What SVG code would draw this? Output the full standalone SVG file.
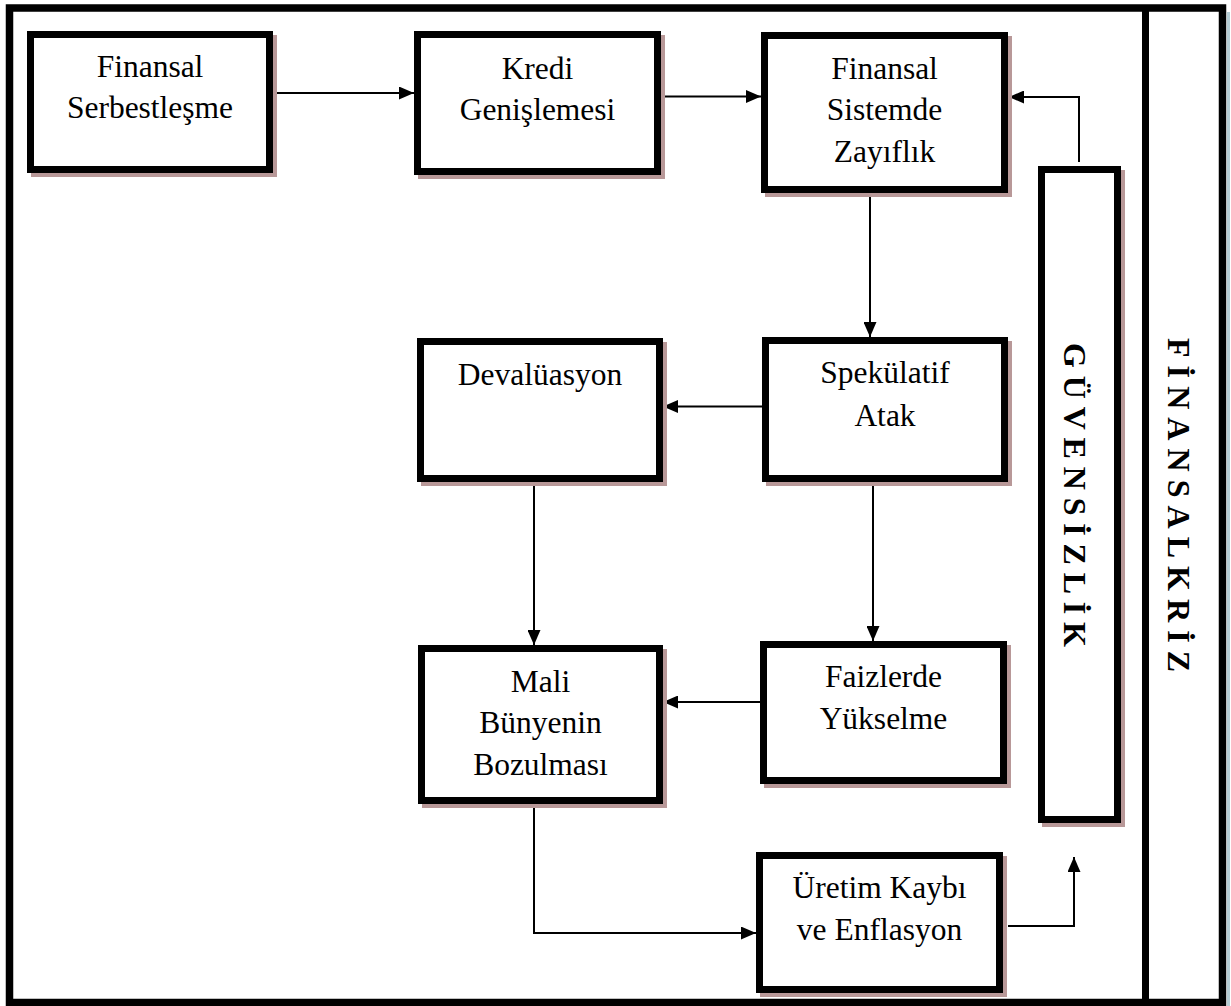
<svg xmlns="http://www.w3.org/2000/svg" width="1231" height="1006" viewBox="0 0 1231 1006">
<style>
.box{fill:#fff;stroke:#000;stroke-width:7}
.sh{fill:#b89898}
.t{font-family:"Liberation Serif","Times New Roman",serif;font-size:31.5px;fill:#000;text-anchor:middle}
.v{font-family:"Liberation Serif","Times New Roman",serif;font-size:32px;font-weight:bold;fill:#000}
.c{fill:none;stroke:#000;stroke-width:2}
</style>
<defs>
<marker id="ah" markerWidth="15" markerHeight="13" refX="15" refY="6.5" orient="auto" markerUnits="userSpaceOnUse">
<path d="M0,0 L15,6.5 L0,13 Z" fill="#000"/>
</marker>
</defs>
<rect x="0" y="0" width="1231" height="1006" fill="#fff"/>
<rect x="1227" y="12" width="3" height="994" fill="#b4ccd4"/>
<g id="frame">
<rect x="9.5" y="8" width="1213" height="994.5" fill="none" stroke="#000" stroke-width="7.5"/>
<line x1="1145.5" y1="8" x2="1145.5" y2="1002" stroke="#000" stroke-width="7"/>
<text class="v" transform="translate(1168,505) rotate(90)" text-anchor="middle" x="0" y="0" textLength="334" lengthAdjust="spacing">FİNANSALKRİZ</text>
</g>
<g id="connectors">
<line class="c" x1="273" y1="93" x2="414" y2="93" marker-end="url(#ah)"/>
<line class="c" x1="661" y1="96.5" x2="761" y2="96.5" marker-end="url(#ah)"/>
<line class="c" x1="870" y1="193" x2="870" y2="337" marker-end="url(#ah)"/>
<line class="c" x1="762" y1="406.5" x2="663" y2="406.5" marker-end="url(#ah)"/>
<line class="c" x1="534" y1="482" x2="534" y2="645" marker-end="url(#ah)"/>
<line class="c" x1="873" y1="482" x2="873" y2="641" marker-end="url(#ah)"/>
<line class="c" x1="760" y1="702" x2="663" y2="702" marker-end="url(#ah)"/>
<polyline class="c" points="534,804 534,933 756,933" marker-end="url(#ah)"/>
<polyline class="c" points="1008,926 1074,926 1074,857" marker-end="url(#ah)"/>
<polyline class="c" points="1079,162 1079,97 1009,97" marker-end="url(#ah)"/>
</g>
<g id="n1">
<rect class="sh" x="31" y="35" width="246" height="142"/>
<rect class="box" x="30.5" y="34.5" width="239" height="135"/>
<text class="t" x="150" y="77">Finansal</text>
<text class="t" x="150" y="118">Serbestleşme</text>
</g>
<g id="n2">
<rect class="sh" x="418" y="35" width="247" height="144"/>
<rect class="box" x="417.5" y="34.5" width="240" height="137"/>
<text class="t" x="537.5" y="79">Kredi</text>
<text class="t" x="537.5" y="120">Genişlemesi</text>
</g>
<g id="n3">
<rect class="sh" x="765" y="36" width="247" height="161"/>
<rect class="box" x="764.5" y="35.5" width="240" height="154"/>
<text class="t" x="884.5" y="79">Finansal</text>
<text class="t" x="884.5" y="120">Sistemde</text>
<text class="t" x="884.5" y="162">Zayıflık</text>
</g>
<g id="n4">
<rect class="sh" x="421" y="342" width="246" height="144"/>
<rect class="box" x="420.5" y="341.5" width="239" height="137"/>
<text class="t" x="540" y="385">Devalüasyon</text>
</g>
<g id="n5">
<rect class="sh" x="766" y="341" width="246" height="145"/>
<rect class="box" x="765.5" y="340.5" width="239" height="138"/>
<text class="t" x="885" y="383">Spekülatif</text>
<text class="t" x="885" y="426">Atak</text>
</g>
<g id="n6">
<rect class="sh" x="422" y="649" width="245" height="159"/>
<rect class="box" x="421.5" y="648.5" width="238" height="152"/>
<text class="t" x="540.5" y="692">Mali</text>
<text class="t" x="540.5" y="733">Bünyenin</text>
<text class="t" x="540.5" y="775">Bozulması</text>
</g>
<g id="n7">
<rect class="sh" x="764" y="645" width="247" height="143"/>
<rect class="box" x="763.5" y="644.5" width="240" height="136"/>
<text class="t" x="883.5" y="687">Faizlerde</text>
<text class="t" x="883.5" y="729">Yükselme</text>
</g>
<g id="n8">
<rect class="sh" x="760" y="856" width="247" height="141"/>
<rect class="box" x="759.5" y="855.5" width="240" height="134"/>
<text class="t" x="879.5" y="898">Üretim Kaybı</text>
<text class="t" x="879.5" y="940">ve Enflasyon</text>
</g>
<g id="n9">
<rect class="sh" x="1042" y="170" width="83" height="657"/>
<rect class="box" x="1041.5" y="169.5" width="76" height="650"/>
<text class="v" transform="translate(1064,495) rotate(90)" text-anchor="middle" x="0" y="0" textLength="304" lengthAdjust="spacing">GÜVENSİZLİK</text>
</g>
</svg>
